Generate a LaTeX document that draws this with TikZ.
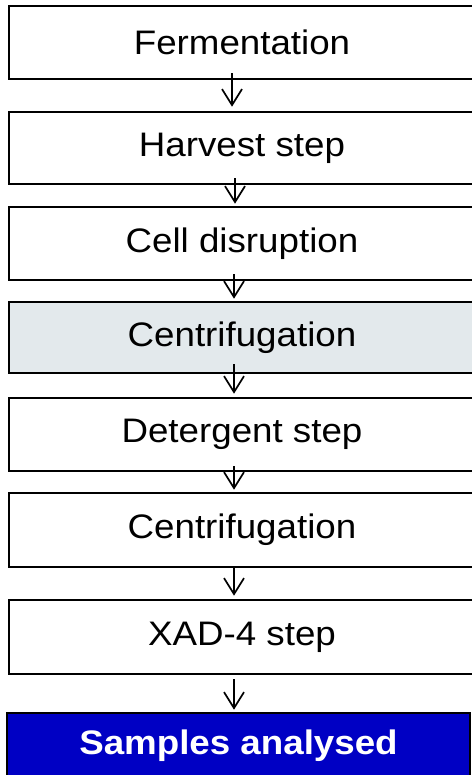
\documentclass[tikz,border=0pt]{standalone}
\usepackage{fontspec}
\newfontfamily\stepfont[FakeStretch=1.08]{Liberation Sans}
\usetikzlibrary{arrows.meta}
\definecolor{shadegray}{RGB}{227,233,236}
\definecolor{deepblue}{RGB}{0,0,196}

\tikzset{
    stepbox/.style={draw=black,line width=2.6pt,fill=white,minimum width=466pt,
        inner sep=0pt,font=\stepfont\fontsize{34}{40}\selectfont},
    flow/.style={line width=1.7pt,-{Straight Barb[length=16pt,width=20pt,line width=1.7pt]}}
}

\begin{document}
\begin{tikzpicture}[x=1pt,y=-1pt]
    \useasboundingbox (0,0) rectangle (471,775);

    % steps
    \node[stepbox,minimum height=73pt] (ferm) at (242,42.5) {Fermentation};
    \node[stepbox,minimum height=72pt] (harv) at (242,148) {Harvest step};
    \node[stepbox,minimum height=73pt] (cell) at (242,243.5) {Cell disruption};
    \node[stepbox,minimum height=71pt,fill=shadegray] (cent1) at (242,337.5) {Centrifugation};
    \node[stepbox,minimum height=73pt] (det) at (242,434.5) {Detergent step};
    \node[stepbox,minimum height=74pt] (cent2) at (242,530) {Centrifugation};
    \node[stepbox,minimum height=74pt] (xad) at (242,637) {XAD-4 step};
    \node[stepbox,minimum height=65pt,minimum width=463pt,fill=deepblue,text=white,
        font=\stepfont\bfseries\fontsize{34}{40}\selectfont] (samp) at (238.5,745.5) {Samples analysed};

    % arrows
    \draw[flow] ([xshift=-10pt,yshift=7pt]ferm.south) -- ([xshift=-10pt,yshift=4pt]harv.north);
    \draw[flow] ([xshift=-7pt,yshift=7pt]harv.south) -- ([xshift=-7pt,yshift=2pt]cell.north);
    \draw[flow] ([xshift=-8pt,yshift=7pt]cell.south) -- ([xshift=-8pt,yshift=2pt]cent1.north);
    \draw[flow] ([xshift=-8pt,yshift=10pt]cent1.south) -- ([xshift=-8pt,yshift=3pt]det.north);
    \draw[flow] ([xshift=-8pt,yshift=6pt]det.south) -- ([xshift=-8pt,yshift=2pt]cent2.north);
    \draw[flow] ([xshift=-8pt,yshift=1pt]cent2.south) -- ([xshift=-8pt,yshift=3pt]xad.north);
    \draw[flow] ([xshift=-8pt,yshift=-4pt]xad.south) -- ([xshift=-4.5pt,yshift=2pt]samp.north);
\end{tikzpicture}
\end{document}
